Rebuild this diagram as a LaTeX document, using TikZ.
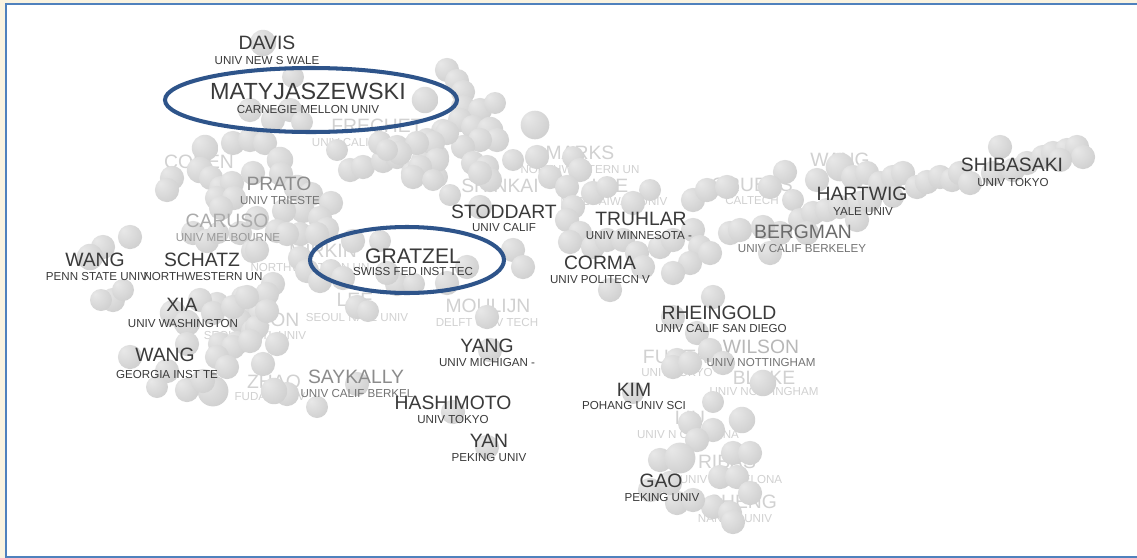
\documentclass[tikz,border=0pt]{standalone}
\usepackage{fontspec}
\setmainfont{Liberation Sans}
\definecolor{frameblue}{RGB}{79,129,189}
\definecolor{ringblue}{RGB}{46,84,138}
\definecolor{mycream}{RGB}{250,243,224}
\definecolor{txt}{RGB}{58,58,58}
\pgfdeclareradialshading{sphere}{\pgfpoint{-14bp}{14bp}}{color(0bp)=(black!9); color(22bp)=(black!15); color(50bp)=(black!23); color(72bp)=(black!36)}
\tikzset{
  nm/.style={font=\fontsize{11}{13}\selectfont, text=txt, inner sep=0pt},
  un/.style={font=\fontsize{6.6}{8}\selectfont, text=txt, inner sep=0pt},
  fnm/.style={nm, text=black!18},
  fun/.style={un, text=black!18},
  ring/.style={draw=ringblue, line width=2.3pt}
}

\begin{document}
\begin{tikzpicture}[x=0.02cm,y=-0.02cm]
\useasboundingbox (0,0) rectangle (1137,558);
\fill[mycream] (0,0) rectangle (1137,558);
\fill[white] (6,4) rectangle (1137,557);
\draw[frameblue, line width=1.1pt] (1137,4) -- (6,4) -- (6,557) -- (1137,557);
% far labels, behind the balls
\node[fnm] (frechet) at (377,126) {FRECHET};
\node[fun] (frechetu) at (376,143) {UNIV CALIF BERKELEY};
\node[fnm] (cohen) at (199,162) {COHEN};
\node[fnm] (marks) at (580,153) {MARKS};
\node[fun] (marksu) at (580,170) {NORTHWESTERN UN};
\node[fnm] (shinkai) at (500,186) {SHINKAI};
\node[fnm] (lee) at (610,186) {LEE};
\node[fun] (leeu) at (614,202) {NATL TAIWAN UNIV};
\node[fnm] (grubbs) at (752,185) {GRUBBS};
\node[fun] (grubbsu) at (752,201) {CALTECH};
\node[fnm] (wangy) at (840,160) {WANG};
\node[fnm] (mirkin) at (323,251) {MIRKIN};
\node[fun] (mirkinu) at (310,268) {NORTHWESTERN UN};
\node[fnm] (lees) at (355,300) {LEE};
\node[fun] (leesu) at (357,318) {SEOUL NATL UNIV};
\node[fnm] (hyeon) at (265,320) {HYEON};
\node[fun] (hyeonu) at (255,336) {SEOUL NATL UNIV};
\node[fnm] (moulijn) at (488,306) {MOULIJN};
\node[fun] (moulijnu) at (487,323) {DELFT UNIV TECH};
\node[fnm] (zhao) at (274,382) {ZHAO};
\node[fun] (zhaou) at (270,397) {FUDAN UNIV};
\node[fnm] (fujita) at (675,357) {FUJITA};
\node[fun] (fujitau) at (677,373) {UNIV TOKYO};
\node[nm, text=black!28] (wilson) at (761,347) {WILSON};
\node[fnm] (blake) at (764,378) {BLAKE};
\node[fun] (blakeu) at (764,392) {UNIV NOTTINGHAM};
\node[fnm] (liu) at (690,418) {LIU};
\node[fun] (liuu) at (688,435) {UNIV N CAROLINA};
\node[fnm] (ribas) at (727,462) {RIBAS};
\node[fun] (ribasu) at (731,480) {UNIV BARCELONA};
\node[fnm] (cheng) at (742,502) {CHENG};
\node[fun] (chengu) at (735,519) {NANKAI UNIV};
% balls: x/y/r
\foreach \x/\y/\r in {263/43/12, 293/77/10, 250/110/11, 273/120/11, 290/110/11, 302/122/10,
  205/148/12, 233/143/11, 250/140/11, 265/143/11, 280/160/12, 281/174/11,
  172/178/11, 167/190/11, 200/170/12, 211/178/11, 221/188/11, 232/183/11, 253/173/11,
  217/198/11, 234/198/11, 221/208/11, 297/188/12, 311/194/11, 331/203/11, 303/211/11,
  320/218/11, 327/229/11, 284/211/11, 257/218/11, 277/231/11, 300/234/11,
  193/233/11, 207/241/11, 240/233/11, 253/251/11, 218/233/10, 287/234/11, 317/234/11, 257/250/11,
  130/237/11, 103/247/11, 90/257/12, 300/258/11, 307/271/11, 320/281/11, 331/270/10, 343/278/11,
  353/241/11, 380/241/10, 397/284/11, 414/284/10, 387/273/11, 357/307/11, 368/311/10,
  273/284/11, 267/294/11, 243/298/11, 248/308/11, 260/314/11, 240/321/11, 217/304/11,
  220/344/11, 237/343/11, 253/331/11, 277/344/11, 263/364/11, 287/394/11, 357/384/11,
  207/383/12, 213/391/14, 113/300/11, 101/300/10, 123/290/10, 173/313/12, 187/323/12,
  200/300/11, 213/313/11, 233/307/11, 247/297/11, 257/327/11, 267/311/11, 233/347/11,
  250/341/11, 217/357/11, 227/367/11, 167/371/11, 157/387/10, 187/390/11, 203/381/11,
  130/357/11, 187/344/11, 317/407/10, 274/391/12}
  \shade[shading=sphere] (\x,\y) circle ({1.1*\r});
\foreach \x/\y/\r in {350/170/11, 363/167/11, 383/161/11, 397/157/11, 413/173/11, 437/177/10,
  423/161/11, 437/157/11, 380/143/11, 397/147/11, 443/131/11, 427/140/11, 337/150/10,
  447/70/11, 457/81/11, 463/92/11, 425/100/12, 463/107/11, 480/110/11, 495/103/10, 535/125/13,
  460/120/11, 473/127/11, 490/130/12, 497/140/11, 480/140/11, 463/147/11, 447/133/11,
  433/143/11, 417/143/11, 400/153/11, 387/150/10, 437/160/11, 420/167/11, 413/177/11,
  433/180/10, 473/163/11, 487/167/11, 513/160/10, 537/157/11, 550/177/11, 573/157/10,
  580/170/11, 567/187/11, 593/193/11, 607/187/10, 650/190/10, 633/203/11, 490/180/11,
  480/173/11, 450/195/10, 480/207/11,
  573/207/11, 567/220/11, 580/233/11, 570/242/11, 593/247/11, 607/240/11, 623/240/11,
  637/253/11, 643/267/11, 660/247/11, 673/240/11, 693/230/11, 700/247/11, 690/263/11,
  673/273/11, 710/253/11, 693/200/11, 707/190/11, 727/187/11, 730/233/11, 740/230/11,
  513/250/11, 523/267/11, 467/267/11, 447/283/11, 610/290/11}
  \shade[shading=sphere] (\x,\y) circle ({1.1*\r});
\foreach \x/\y/\r in {785/172/11, 793/200/10, 770/187/11, 840/167/13, 853/177/11, 817/180/11,
  867/173/11, 880/183/11, 893/177/11, 903/173/11, 917/187/11, 927/182/11, 940/177/11,
  952/180/11, 960/173/11, 970/183/11, 1000/147/11, 993/173/11, 1013/170/11, 1027/163/11,
  1043/157/11, 1053/153/11, 1067/150/11, 1077/147/11, 1083/157/11, 1060/160/11,
  800/220/11, 813/213/11, 827/210/11, 840/207/11, 860/203/11, 870/200/11, 893/197/10,
  857/220/11, 780/233/11, 770/253/11, 763/227/11, 807/233/11,
  487/317/11, 490/350/11, 453/412/11, 487/447/11,
  713/297/11, 673/317/11, 697/333/11, 710/350/11, 677/360/11, 723/363/11, 673/367/11,
  690/363/11, 763/383/12, 713/402/10, 742/420/12, 690/423/11, 713/430/11, 697/440/11,
  660/460/11, 680/458/14, 733/453/11, 750/453/11, 720/477/11, 737/477/11, 750/493/11,
  713/507/11, 730/513/11, 733/522/11, 677/503/11, 693/500/11, 650/490/11, 670/483/11, 633/393/10}
  \shade[shading=sphere] (\x,\y) circle ({1.1*\r});
% near labels
\node[nm, text=black!45] (prato) at (279,184) {PRATO};
\node[un, text=black!55] (pratou) at (280,201) {UNIV TRIESTE};
\node[nm, text=black!33] (caruso) at (227,221) {CARUSO};
\node[un, text=black!40] (carusou) at (228,238) {UNIV MELBOURNE};
\node[nm, text=black!45] (saykally) at (356,377) {SAYKALLY};
\node[un, text=black!55] (saykallyu) at (357,394) {UNIV CALIF BERKEL};
\node[nm, text=black!58] (bergman) at (803,232) {BERGMAN};
\node[un, text=black!55] (bergmanu) at (802,249) {UNIV CALIF BERKELEY};
\node[un, text=black!55] (wilsonu) at (761,363) {UNIV NOTTINGHAM};
\node[nm] (davis) at (267,43) {DAVIS};
\node[un] (davisu) at (267,61) {UNIV NEW S WALE};
\node[nm, font=\fontsize{13.3}{15}\selectfont] (matyj) at (308,91) {MATYJASZEWSKI};
\node[un] (matyju) at (308,110) {CARNEGIE MELLON UNIV};
\node[nm] (wangp) at (95,260) {WANG};
\node[un] (wangpu) at (97,277) {PENN STATE UNIV};
\node[nm] (schatz) at (202,260) {SCHATZ};
\node[un] (schatzu) at (203,277) {NORTHWESTERN UN};
\node[nm] (xia) at (182,305) {XIA};
\node[un] (xiau) at (183,324) {UNIV WASHINGTON};
\node[nm] (wangg) at (165,355) {WANG};
\node[un] (wanggu) at (167,375) {GEORGIA INST TE};
\node[nm] (stoddart) at (504,212) {STODDART};
\node[un] (stoddartu) at (504,228) {UNIV CALIF};
\node[nm] (truhlar) at (641,219) {TRUHLAR};
\node[un] (truhlaru) at (639,236) {UNIV MINNESOTA -};
\node[nm, font=\fontsize{12}{14}\selectfont] (gratzel) at (413,256) {GRATZEL};
\node[un] (gratzelu) at (413,272) {SWISS FED INST TEC};
\node[nm] (corma) at (600,263) {CORMA};
\node[un] (cormau) at (600,280) {UNIV POLITECN V};
\node[nm] (hartwig) at (862,194) {HARTWIG};
\node[un] (hartwigu) at (863,212) {YALE UNIV};
\node[nm] (shibasaki) at (1012,165) {SHIBASAKI};
\node[un] (shibasakiu) at (1013,183) {UNIV TOKYO};
\node[nm] (rheingold) at (719,313) {RHEINGOLD};
\node[un] (rheingoldu) at (721,329) {UNIV CALIF SAN DIEGO};
\node[nm] (yang) at (487,346) {YANG};
\node[un] (yangu) at (487,363) {UNIV MICHIGAN -};
\node[nm] (hashimoto) at (453,403) {HASHIMOTO};
\node[un] (hashimotou) at (453,420) {UNIV TOKYO};
\node[nm] (yan) at (489,441) {YAN};
\node[un] (yanu) at (489,458) {PEKING UNIV};
\node[nm] (kim) at (634,390) {KIM};
\node[un] (kimu) at (634,406) {POHANG UNIV SCI};
\node[nm] (gao) at (661,481) {GAO};
\node[un] (gaou) at (662,498) {PEKING UNIV};
% rings
\draw[ring] (311,100) ellipse [x radius=146, y radius=32];
\draw[ring] (407,260) ellipse [x radius=97, y radius=33];
\end{tikzpicture}
\end{document}
